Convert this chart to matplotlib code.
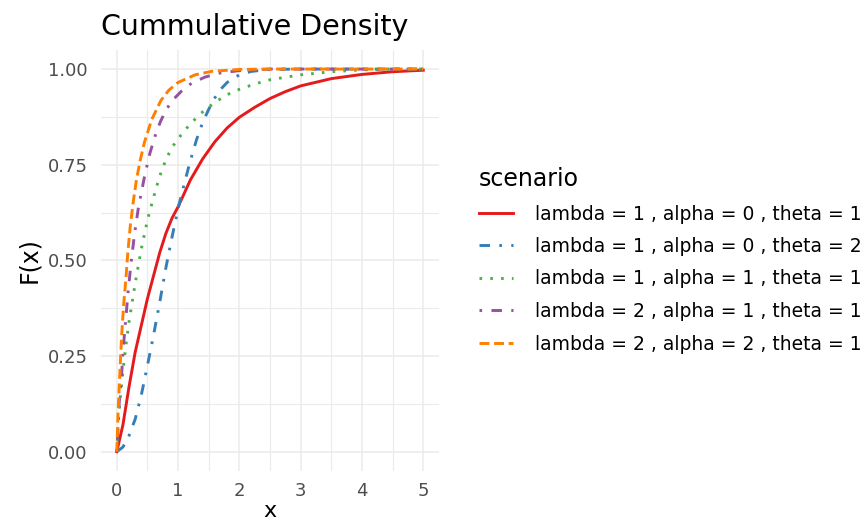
import numpy as np
import matplotlib.pyplot as plt

# ==================== data ====================

scenarios = ["lambda = 1 , alpha = 0 , theta = 1",
             "lambda = 1 , alpha = 0 , theta = 2",
             "lambda = 1 , alpha = 1 , theta = 1",
             "lambda = 2 , alpha = 1 , theta = 1",
             "lambda = 2 , alpha = 2 , theta = 1"]

red_x = [0, 0.1, 0.2, 0.3, 0.4, 0.5, 0.6, 0.7, 0.8, 0.9, 1.0, 1.2, 1.4, 1.6, 1.8, 2.0,
         2.25, 2.5, 2.75, 3.0, 3.5, 4.0, 4.5, 5.0]
red_y = [0, 0.07, 0.17, 0.26, 0.33, 0.40, 0.46, 0.52, 0.57, 0.61, 0.64, 0.71, 0.765, 0.81,
         0.846, 0.874, 0.90, 0.923, 0.941, 0.956, 0.975, 0.986, 0.993, 0.997]

blue_x = [0, 0.1, 0.2, 0.3, 0.4, 0.5, 0.6, 0.7, 0.8, 0.9, 1.0, 1.1, 1.2, 1.3, 1.4, 1.5,
          1.6, 1.7, 1.8, 2.0, 2.2, 2.5, 3, 5]
blue_y = [0, 0.012, 0.042, 0.085, 0.148, 0.225, 0.305, 0.39, 0.48, 0.56, 0.635, 0.70, 0.76,
          0.815, 0.86, 0.895, 0.925, 0.948, 0.965, 0.985, 0.994, 0.999, 1.0, 1.0]

green_x = [0, 0.025, 0.05, 0.1, 0.15, 0.2, 0.25, 0.3, 0.35, 0.4, 0.5, 0.6, 0.7, 0.8, 0.9,
           1.0, 1.2, 1.4, 1.6, 1.8, 2.0, 2.25, 2.5, 3.0, 3.5, 4.0, 4.5, 5]
green_y = [0, 0.08, 0.13, 0.21, 0.28, 0.34, 0.39, 0.44, 0.485, 0.53, 0.605, 0.665, 0.72,
           0.763, 0.795, 0.818, 0.857, 0.888, 0.913, 0.933, 0.947, 0.961, 0.972, 0.985,
           0.993, 0.998, 1.0, 1.0]

purple_x = [0, 0.02, 0.04, 0.08, 0.11, 0.15, 0.18, 0.23, 0.29, 0.35, 0.41, 0.46, 0.54, 0.625,
            0.71, 0.8, 0.9, 1.06, 1.22, 1.44, 1.66, 2.0, 2.5, 5]
purple_y = [0, 0.06, 0.13, 0.205, 0.279, 0.353, 0.41, 0.49, 0.57, 0.635, 0.685, 0.725, 0.78,
            0.825, 0.862, 0.892, 0.917, 0.943, 0.963, 0.979, 0.989, 0.996, 1.0, 1.0]

orange_x = [0, 0.02, 0.04, 0.06, 0.08, 0.11, 0.15, 0.18, 0.22, 0.27, 0.32, 0.38, 0.45, 0.57,
            0.72, 0.85, 1.0, 1.28, 1.55, 2.0, 2.5, 5]
orange_y = [0, 0.10, 0.17, 0.24, 0.305, 0.38, 0.455, 0.52, 0.59, 0.655, 0.71, 0.76, 0.808,
            0.868, 0.918, 0.945, 0.965, 0.985, 0.994, 0.999, 1.0, 1.0]

x_ticks = [0, 1, 2, 3, 4, 5]
y_ticks = [0.0, 0.25, 0.50, 0.75, 1.00]
y_labels = ["0.00", "0.25", "0.50", "0.75", "1.00"]

# ===================== plotting =====================

colors = ["#E41A1C", "#377EB8", "#4DAF4A", "#984EA3", "#FF7F00"]
styles = ["-", (0, (3.6, 3.2, 0.9, 3.2)), (0, (0.9, 2.8)),
          (0, (0.9, 3.2, 3.6, 3.2)), (0, (3.4, 1.6))]
series = [(red_x, red_y), (blue_x, blue_y), (green_x, green_y),
          (purple_x, purple_y), (orange_x, orange_y)]

fig = plt.figure(figsize=(8.68, 5.2), dpi=100)
ax = fig.add_axes([0.1169, 0.0946, 0.3884, 0.8094])

for (xs, ys), c, ls, lab in zip(series, colors, styles, scenarios):
    ax.plot(xs, ys, color=c, linestyle=ls, linewidth=2.1, label=lab,
            dash_capstyle="butt")

ax.set_xlim(-0.25, 5.25)
ax.set_ylim(-0.05, 1.05)
ax.set_xticks(x_ticks)
ax.set_yticks(y_ticks, y_labels)
ax.set_xticks(np.arange(0.5, 5, 1), minor=True)
ax.set_yticks([0.125, 0.375, 0.625, 0.875], minor=True)
ax.grid(which="major", color="#EBEBEB", linewidth=1.1)
ax.grid(which="minor", color="#EBEBEB", linewidth=0.8)
ax.set_axisbelow(True)
for s in ax.spines.values():
    s.set_visible(False)
ax.tick_params(which="both", length=0)
ax.tick_params(axis="both", labelsize=13, labelcolor="#4D4D4D")
ax.tick_params(axis="y", pad=10)
ax.tick_params(axis="x", pad=8)

ax.set_xlabel("x", fontsize=16, labelpad=1)
ax.set_ylabel("F(x)", fontsize=17, labelpad=5)
ax.set_title("Cummulative Density", fontsize=20.5, loc="left", pad=11)

leg = ax.legend(loc="upper left", bbox_to_anchor=(479 / 868, 1 - 167 / 520),
                bbox_transform=fig.transFigure, frameon=False, title="scenario",
                fontsize=13.5, title_fontsize=17, handlelength=1.8, handletextpad=1.2,
                labelspacing=0.72, borderpad=0, borderaxespad=0, alignment="left")

fig.savefig("out.png", dpi=100)
